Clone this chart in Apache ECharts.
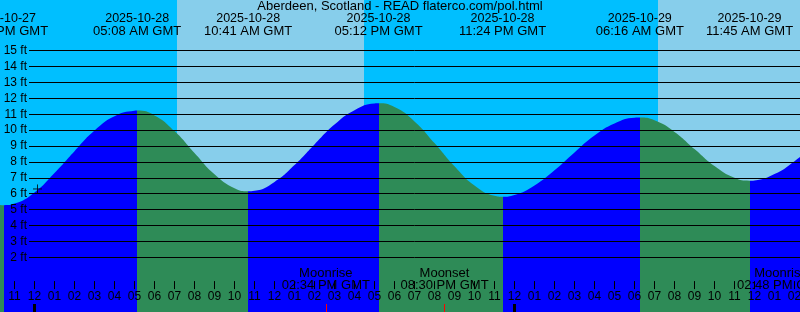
<!DOCTYPE html>
<html>
<head>
<meta charset="utf-8">
<script src="https://cdn.jsdelivr.net/npm/echarts@6/dist/echarts.min.js"></script>
<style>
html,body{margin:0;padding:0;background:#00BFFF;}
#chart{width:800px;height:312px;}
</style>
</head>
<body>
<div id="chart"></div>
<script>
// ---- data (hours since 2025-10-28 00:00 GMT) ----
const titleText = 'Aberdeen, Scotland - READ flaterco.com/pol.html';
const tideHours = [-2,-1.525,-1,0,1,2,3,4,5,5.133,6,7,8,9,10,10.683,11,12,13,14,15,16,17,17.2,18,19,20,21,22,23,23.4,24,25,26,27,28,29,30,30.267,31,32,33,34,35,35.75,36,37,38,39];
const tideFeet  = [5.36,5.28,5.38,6.08,7.3,8.68,9.98,10.88,11.22,11.23,10.93,9.94,8.56,7.22,6.34,6.15,6.18,6.74,7.8,9.1,10.35,11.26,11.68,11.69,11.45,10.55,9.19,7.73,6.52,5.87,5.81,5.92,6.52,7.47,8.6,9.66,10.42,10.78,10.79,10.62,9.89,8.81,7.74,7.0,6.82,6.84,7.24,8.05,9.1];

const extremeHours = [-1.525, 5.133, 10.683, 17.2, 23.4, 30.267, 35.75];
const extremeKind  = ['low','high','low','high','low','high','low'];
const extremeDates = ['2025-10-27','2025-10-28','2025-10-28','2025-10-28','2025-10-28','2025-10-29','2025-10-29'];
const extremeTimes = ['10:29 PM GMT','05:08 AM GMT','10:41 AM GMT','05:12 PM GMT','11:24 PM GMT','06:16 AM GMT','11:45 AM GMT'];

const sunriseHours = [7.125, 31.175];
const sunsetHours  = [16.475];

const moonHours = [14.567, 20.5, 38.8];
const moonNames = ['Moonrise','Moonset','Moonrise'];
const moonTimes = ['02:34 PM GMT','08:30 PM GMT','02:48 PM GMT'];

const midnightHours = [0, 24];
const nowHour = 0.15, nowFeet = 6.3;

const ftTickMin = 2, ftTickMax = 15;

// ---- layout / style ----
const W = 800, H = 312;
const X_MIN = -1.725, X_MAX = 38.275;
const Y_MIN = -1.442, Y_MAX = 18.19;
const NIGHT = '#00BFFF', DAY = '#87CEEB', RISE = '#0000FF', FALL = '#2E8B57';
const FONT = '"Liberation Sans", Arial, Helvetica, sans-serif';

const hourTicks = [];
for (let h = Math.ceil(X_MIN); h <= Math.floor(X_MAX); h++) hourTicks.push(h);
const hourLabel = v => {
  let h = ((Math.round(v) % 12) + 12) % 12;
  if (h === 0) h = 12;
  return (h < 10 ? '0' : '') + h;
};

// rising / falling pieces
const pieces = [];
for (let i = 0; i <= extremeHours.length; i++) {
  const p = {};
  if (i > 0) p.gte = extremeHours[i - 1];
  if (i < extremeHours.length) p.lt = extremeHours[i];
  const rising = i < extremeHours.length ? extremeKind[i] === 'high' : extremeKind[i - 1] === 'low';
  p.color = rising ? RISE : FALL;
  pieces.push(p);
}

// day / night background
const sunEvents = sunriseHours.map(h => ({h, day: true})).concat(sunsetHours.map(h => ({h, day: false}))).sort((a, b) => a.h - b.h);
const areas = [];
let start = X_MIN, isDay = !sunEvents[0].day;
sunEvents.forEach(e => {
  areas.push([{xAxis: start, itemStyle: {color: isDay ? DAY : NIGHT}}, {xAxis: e.h}]);
  start = e.h; isDay = e.day;
});
areas.push([{xAxis: start, itemStyle: {color: isDay ? DAY : NIGHT}}, {xAxis: X_MAX}]);

// grid for foot lines aligned to main scale
const pxPerFt = H / (Y_MAX - Y_MIN);
const g1Top = (Y_MAX - ftTickMax) * pxPerFt;
const g1Bottom = (ftTickMin - Y_MIN) * pxPerFt;

const chart = echarts.init(document.getElementById('chart'), null, {renderer: 'canvas'});
const option = {
  animation: false,
  backgroundColor: NIGHT,
  textStyle: {fontFamily: FONT},
  grid: [
    {left: 0, right: 0, top: 0, bottom: 0, containLabel: false, outerBoundsMode: 'none'},
    {left: 29, right: 0, top: g1Top, bottom: g1Bottom, containLabel: false, outerBoundsMode: 'none'}
  ],
  xAxis: [
    {type: 'value', gridIndex: 0, min: X_MIN, max: X_MAX, position: 'bottom', z: 5,
     axisLine: {show: false}, splitLine: {show: false},
     axisTick: {show: true, inside: true, length: 8, customValues: hourTicks, lineStyle: {color: '#000', width: 1}},
     axisLabel: {show: true, inside: true, margin: 9, customValues: hourTicks, formatter: hourLabel, color: '#000', fontSize: 12, fontFamily: FONT, hideOverlap: false}},
    {type: 'value', gridIndex: 0, min: X_MIN, max: X_MAX, position: 'bottom', z: 5,
     axisLine: {show: false}, splitLine: {show: false}, axisLabel: {show: false},
     axisTick: {show: true, inside: true, length: 8, customValues: midnightHours, lineStyle: {color: '#000', width: 3}}},
    {type: 'value', gridIndex: 0, min: X_MIN, max: X_MAX, position: 'bottom', z: 5,
     axisLine: {show: false}, splitLine: {show: false}, axisLabel: {show: false},
     axisTick: {show: true, inside: true, length: 8, customValues: moonHours, lineStyle: {color: '#FF0000', width: 1}}},
    {type: 'value', gridIndex: 1, min: 0, max: 1, show: false}
  ],
  yAxis: [
    {type: 'value', gridIndex: 0, min: Y_MIN, max: Y_MAX, show: false},
    {type: 'value', gridIndex: 1, min: ftTickMin, max: ftTickMax, interval: 1, z: 5,
     axisLine: {show: false}, axisTick: {show: false},
     splitLine: {show: true, lineStyle: {color: '#000', width: 1}},
     axisLabel: {show: true, margin: 2, formatter: '{value} ft', color: '#000', fontSize: 12, fontFamily: FONT, padding: [0, 0, 3, 0]}}
  ],
  visualMap: {type: 'piecewise', show: false, dimension: 0, seriesIndex: 0, pieces: pieces},
  series: [
    {type: 'line', xAxisIndex: 0, yAxisIndex: 0, z: 2,
     data: tideHours.map((h, i) => [h, tideFeet[i]]),
     smooth: 0.5, symbol: 'none', silent: true,
     lineStyle: {opacity: 0},
     areaStyle: {opacity: 1, origin: 'start'},
     markArea: {silent: true, data: areas}},
    {type: 'scatter', xAxisIndex: 0, yAxisIndex: 0, z: 6, silent: true,
     data: [[nowHour, nowFeet]],
     symbol: 'path://M0,4L8,4M4,0L4,8', symbolSize: 9,
     itemStyle: {color: 'none', borderColor: '#000', borderWidth: 1}}
  ]
};
chart.setOption(option);

const px = h => chart.convertToPixel({xAxisIndex: 0}, h);
const txt = (x, y, s, size) => ({type: 'text', x: x, y: y, z: 10, silent: true,
  style: {text: s, fill: '#000', font: size + 'px ' + FONT, align: 'center', verticalAlign: 'middle'}});
const graphics = [txt(W / 2, 6.5, titleText, 13)];
extremeHours.forEach((h, i) => {
  const x = px(h);
  graphics.push(txt(x, 19, extremeDates[i], 12.5));
  graphics.push(txt(x, 31, extremeTimes[i], 13));
});
moonHours.forEach((h, i) => {
  const x = Math.min(px(h), W - 19);
  graphics.push(txt(x, 273.5, moonNames[i], 13));
  graphics.push(txt(x, 285.5, moonTimes[i], 13));
});
chart.setOption({graphic: graphics});
</script>
</body>
</html>
